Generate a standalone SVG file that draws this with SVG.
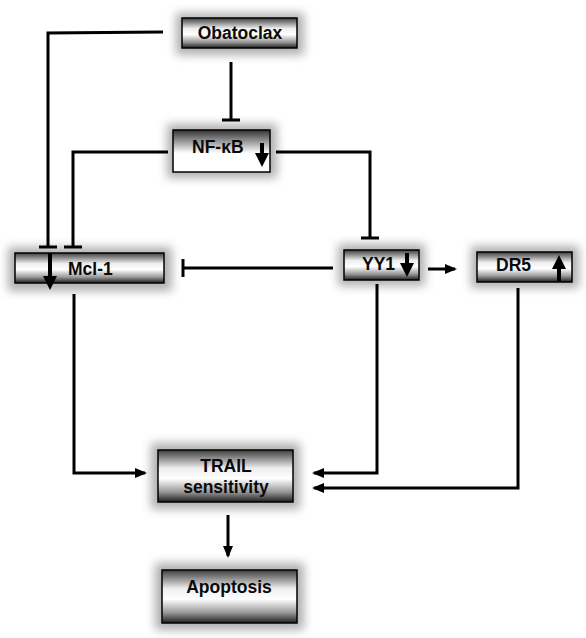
<svg xmlns="http://www.w3.org/2000/svg" width="586" height="638" viewBox="0 0 586 638">
<defs>
  <linearGradient id="cyl" x1="0" y1="0" x2="0" y2="1">
    <stop offset="0" stop-color="#3e3e3e"/>
    <stop offset="0.35" stop-color="#eeeeee"/>
    <stop offset="0.55" stop-color="#ffffff"/>
    <stop offset="0.8" stop-color="#9a9a9a"/>
    <stop offset="1" stop-color="#1e1e1e"/>
  </linearGradient>
  <linearGradient id="half" x1="0" y1="0" x2="0" y2="1">
    <stop offset="0" stop-color="#333333"/>
    <stop offset="0.55" stop-color="#ffffff"/>
    <stop offset="1" stop-color="#ffffff"/>
  </linearGradient>
  <filter id="glow" x="-30%" y="-60%" width="160%" height="220%">
    <feGaussianBlur stdDeviation="5"/>
  </filter>
  <marker id="arr" viewBox="0 0 12 10" refX="10" refY="5" markerWidth="12" markerHeight="10" markerUnits="userSpaceOnUse" orient="auto">
    <path d="M0,0 L12,5 L0,10 z" fill="#000"/>
  </marker>
  <marker id="tee" viewBox="0 0 4 18" refX="2" refY="9" markerWidth="4" markerHeight="18" markerUnits="userSpaceOnUse" orient="auto">
    <path d="M2,0 L2,18" stroke="#000" stroke-width="3"/>
  </marker>
</defs>
<style>
  .shadow { fill: #b0b0b0; filter: url(#glow); }
  .box { fill: url(#cyl); stroke: #000; stroke-width: 1.5; }
  .lbl { font-family: "Liberation Sans", Arial, sans-serif; font-weight: bold; font-size: 17.5px; fill: #0a0a0a; }
  .c { fill: none; stroke: #000; stroke-width: 3; }
  .ia { stroke: #000; stroke-width: 4; fill: none; }
  .ih { fill: #000; }
</style>

<g id="obatoclax">
  <rect class="shadow" x="176" y="13" width="128" height="42"/>
  <rect class="box" x="182" y="18" width="115" height="30"/>
  <text class="lbl" x="240" y="39" text-anchor="middle">Obatoclax</text>
</g>

<g id="nfkb">
  <rect class="shadow" x="167" y="124" width="110" height="54"/>
  <rect x="173" y="130" width="97" height="42" fill="url(#half)" stroke="#000" stroke-width="1.5"/>
  <text class="lbl" x="192" y="153">NF-κB</text>
  <path class="ia" d="M262,143 L262,155"/>
  <path class="ih" d="M255,153 L269,153 L262,167 z"/>
</g>

<g id="mcl1">
  <rect class="shadow" x="8" y="247" width="164" height="44"/>
  <rect class="box" x="15" y="253" width="149" height="30"/>
  <text class="lbl" x="68" y="275">Mcl-1</text>
  <path class="ia" d="M50,253 L50,278"/>
  <path class="ih" d="M43,276 L57,276 L50,290 z"/>
</g>

<g id="yy1">
  <rect class="shadow" x="338" y="244" width="87" height="42"/>
  <rect class="box" x="344" y="250" width="75" height="30"/>
  <text class="lbl" x="362" y="270">YY1</text>
  <path class="ia" d="M407,253 L407,265"/>
  <path class="ih" d="M400,263 L414,263 L407,277 z"/>
</g>

<g id="dr5">
  <rect class="shadow" x="471" y="246" width="108" height="42"/>
  <rect class="box" x="477" y="252" width="95" height="30"/>
  <text class="lbl" x="496" y="271">DR5</text>
  <path class="ia" d="M559,281 L559,267"/>
  <path class="ih" d="M552,269 L566,269 L559,255 z"/>
</g>

<g id="trail">
  <rect class="shadow" x="151" y="443" width="149" height="66"/>
  <rect class="box" x="158" y="450" width="135" height="52"/>
  <text class="lbl" x="226" y="472" text-anchor="middle">TRAIL</text>
  <text class="lbl" x="226" y="493" text-anchor="middle">sensitivity</text>
</g>

<g id="apoptosis">
  <rect class="shadow" x="155" y="563" width="149" height="67"/>
  <rect class="box" x="162" y="570" width="135" height="53"/>
  <text class="lbl" x="229" y="593" text-anchor="middle">Apoptosis</text>
</g>

<g id="connectors">
  <path class="c" d="M163,32 L48,33 L48,247" marker-end="url(#tee)"/>
  <path class="c" d="M168,152 L73,152 L73,247" marker-end="url(#tee)"/>
  <path class="c" d="M231,62 L231,120" marker-end="url(#tee)"/>
  <path class="c" d="M276,152 L370,152 L370,238" marker-end="url(#tee)"/>
  <path class="c" d="M333,268 L183,268" marker-end="url(#tee)"/>
  <path class="c" d="M428,269 L455,269" marker-end="url(#arr)"/>
  <path class="c" d="M74,294 L74,473 L145,473" marker-end="url(#arr)"/>
  <path class="c" d="M377,284 L377,473 L314,473" marker-end="url(#arr)"/>
  <path class="c" d="M518,288 L518,488 L314,488" marker-end="url(#arr)"/>
  <path class="c" d="M228,515 L228,556" marker-end="url(#arr)"/>
</g>
</svg>
